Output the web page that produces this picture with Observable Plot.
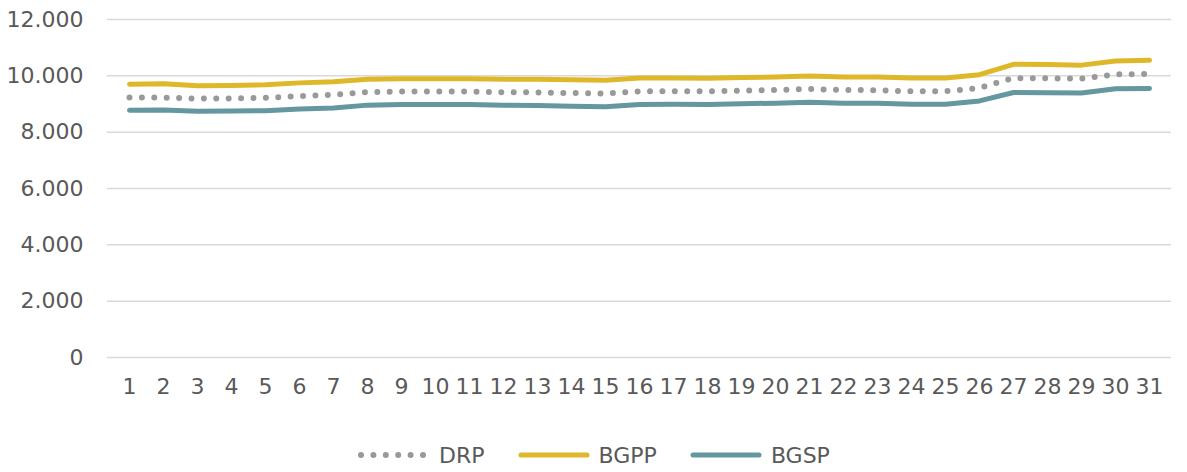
<!DOCTYPE html>
<html><head><meta charset="utf-8">
<script src="https://cdn.jsdelivr.net/npm/d3@7"></script>
<script src="https://cdn.jsdelivr.net/npm/@observablehq/plot@0.6"></script>
<style>
body{margin:0;background:#fff;font-family:"DejaVu Sans",sans-serif;}
#legend{display:flex;justify-content:center;align-items:center;gap:32px;height:50px;color:#595959;font-size:22px;}
.item{display:flex;align-items:center;gap:8px;}
.item svg{display:block;}
</style></head><body>
<div id="chart"></div><div id="legend"></div>
<script>
const days = [1,2,3,4,5,6,7,8,9,10,11,12,13,14,15,16,17,18,19,20,21,22,23,24,25,26,27,28,29,30,31];
const seriesNames = ["DRP","BGPP","BGSP"];
const drp  = [9230,9230,9190,9200,9220,9280,9330,9420,9440,9440,9440,9420,9410,9390,9370,9450,9450,9450,9470,9500,9530,9500,9490,9450,9450,9570,9920,9910,9900,10050,10070];
const bgpp = [9700,9720,9650,9660,9680,9750,9790,9880,9900,9900,9900,9880,9880,9860,9840,9920,9920,9910,9940,9960,9990,9960,9960,9920,9920,10040,10410,10400,10380,10530,10550];
const bgsp = [8780,8790,8740,8750,8760,8820,8860,8960,8980,8980,8980,8960,8950,8920,8900,8980,8990,8980,9010,9030,9060,9030,9030,8990,8990,9110,9410,9400,9390,9540,9550];
const yTicks = [0,2000,4000,6000,8000,10000,12000];

const colors = {DRP:"#999999", BGPP:"#DFB82A", BGSP:"#64979F"};
const valuesBy = {DRP:drp, BGPP:bgpp, BGSP:bgsp};
const rows = seriesNames.flatMap(s => days.map((d,i) => ({series:s, day:d, value:valuesBy[s][i]})));
const loc = d3.formatLocale({decimal:",", thousands:".", grouping:[3], currency:["",""]});
const fmt = loc.format(",");
const font = '"DejaVu Sans", sans-serif';

const plot = Plot.plot({
  width:1187, height:430,
  marginLeft:107, marginRight:16, marginTop:19, marginBottom:73,
  style:{fontFamily:font, fontSize:"22px", color:"#595959", background:"#fff", overflow:"visible"},
  x:{type:"point", domain:days, padding:0.5, label:null},
  y:{domain:[0,12000], label:null},
  marks:[
    Plot.ruleY(yTicks, {stroke:"#d9d9d9", strokeWidth:1.5}),
    Plot.axisX({tickSize:0, tickPadding:21, label:null}),
    Plot.axisY(yTicks, {tickSize:0, tickPadding:24, label:null, tickFormat:fmt}),
    Plot.line(rows.filter(r=>r.series==="DRP"), {x:"day", y:"value", stroke:colors.DRP, strokeWidth:6, strokeDasharray:"0 12.4", strokeLinecap:"round"}),
    Plot.line(rows.filter(r=>r.series==="BGPP"), {x:"day", y:"value", stroke:colors.BGPP, strokeWidth:5, strokeLinecap:"round", strokeLinejoin:"round"}),
    Plot.line(rows.filter(r=>r.series==="BGSP"), {x:"day", y:"value", stroke:colors.BGSP, strokeWidth:5, strokeLinecap:"round", strokeLinejoin:"round"})
  ]
});
document.getElementById("chart").appendChild(plot);

const legend = document.getElementById("legend");
for (const s of seriesNames) {
  const item = document.createElement("div");
  item.className = "item";
  const dash = s === "DRP" ? 'stroke-dasharray="0 12.4"' : '';
  const sw = s === "DRP" ? 6 : 5;
  item.innerHTML = `<svg width="74" height="10"><line x1="4" y1="5" x2="70" y2="5" stroke="${colors[s]}" stroke-width="${sw}" stroke-linecap="round" ${dash}/></svg><span>${s}</span>`;
  legend.appendChild(item);
}
</script>
</body></html>
